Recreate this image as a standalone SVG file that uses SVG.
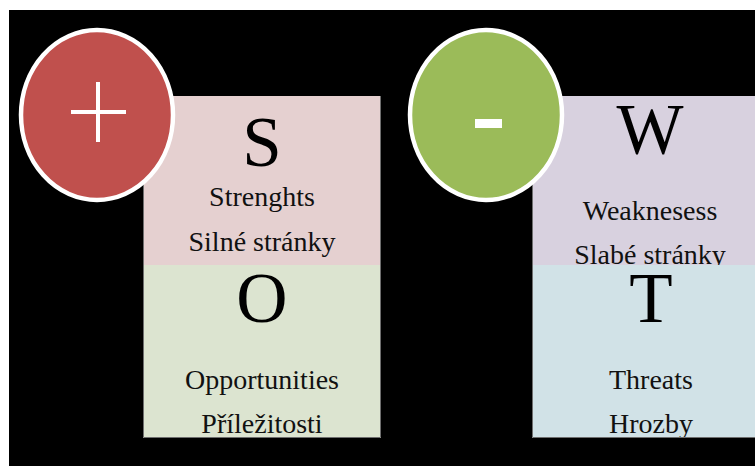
<svg xmlns="http://www.w3.org/2000/svg" width="755" height="466" viewBox="0 0 755 466">
<style>
.big{font-family:"Liberation Serif","Times New Roman",serif;font-size:71px;fill:#000;text-anchor:middle}
.sm{font-family:"Liberation Serif","Times New Roman",serif;font-size:28px;fill:#111;text-anchor:middle}
.edge{fill:none;stroke:#6e6e6e;stroke-width:1}
.circ{stroke:#fff;stroke-width:4.5}
</style>
<defs>
<clipPath id="clipT"><rect x="532" y="265" width="223" height="173"/></clipPath>
<clipPath id="clipO"><rect x="143" y="265" width="238" height="173"/></clipPath>
</defs>
<rect x="0" y="0" width="755" height="466" fill="#fff"/>
<rect x="9" y="10" width="746" height="456" fill="#000"/>
<g id="S">
<rect x="143" y="96" width="238" height="169" fill="#e5d0d0"/>
<text class="big" x="262" y="166">S</text>
<text class="sm" x="262" y="206">Strenghts</text>
<text class="sm" x="262" y="251">Silné stránky</text>
</g>
<g id="O">
<rect x="143" y="265" width="238" height="173" fill="#dce4d0"/>
<g clip-path="url(#clipO)">
<text class="big" x="262" y="322">O</text>
<text class="sm" x="262" y="389">Opportunities</text>
<text class="sm" x="262" y="433">Příležitosti</text>
</g>
</g>
<g id="W">
<rect x="532" y="96" width="230" height="169" fill="#d8d1df"/>
<text class="big" x="650" y="153">W</text>
<text class="sm" x="650" y="220">Weaknesess</text>
<text class="sm" x="650" y="264">Slabé stránky</text>
</g>
<g id="T">
<rect x="532" y="265" width="230" height="173" fill="#d1e2e7"/>
<g clip-path="url(#clipT)">
<text class="big" x="651" y="322">T</text>
<text class="sm" x="651" y="389">Threats</text>
<text class="sm" x="651" y="433">Hrozby</text>
</g>
</g>
<path class="edge" d="M143.5 96 V437.5 H380.5 V96 M532.5 96 V437.5 H755"/>
<g id="plus">
<ellipse class="circ" cx="97" cy="115" rx="76" ry="85" fill="#c0504d"/>
<line x1="71" y1="112" x2="126" y2="112" stroke="#fff" stroke-width="4"/>
<line x1="98" y1="82" x2="98" y2="142" stroke="#fff" stroke-width="4"/>
</g>
<g id="minus">
<ellipse class="circ" cx="486" cy="115" rx="76" ry="85" fill="#9bbb59"/>
<rect x="475" y="119" width="27" height="9" fill="#fff"/>
</g>
</svg>
